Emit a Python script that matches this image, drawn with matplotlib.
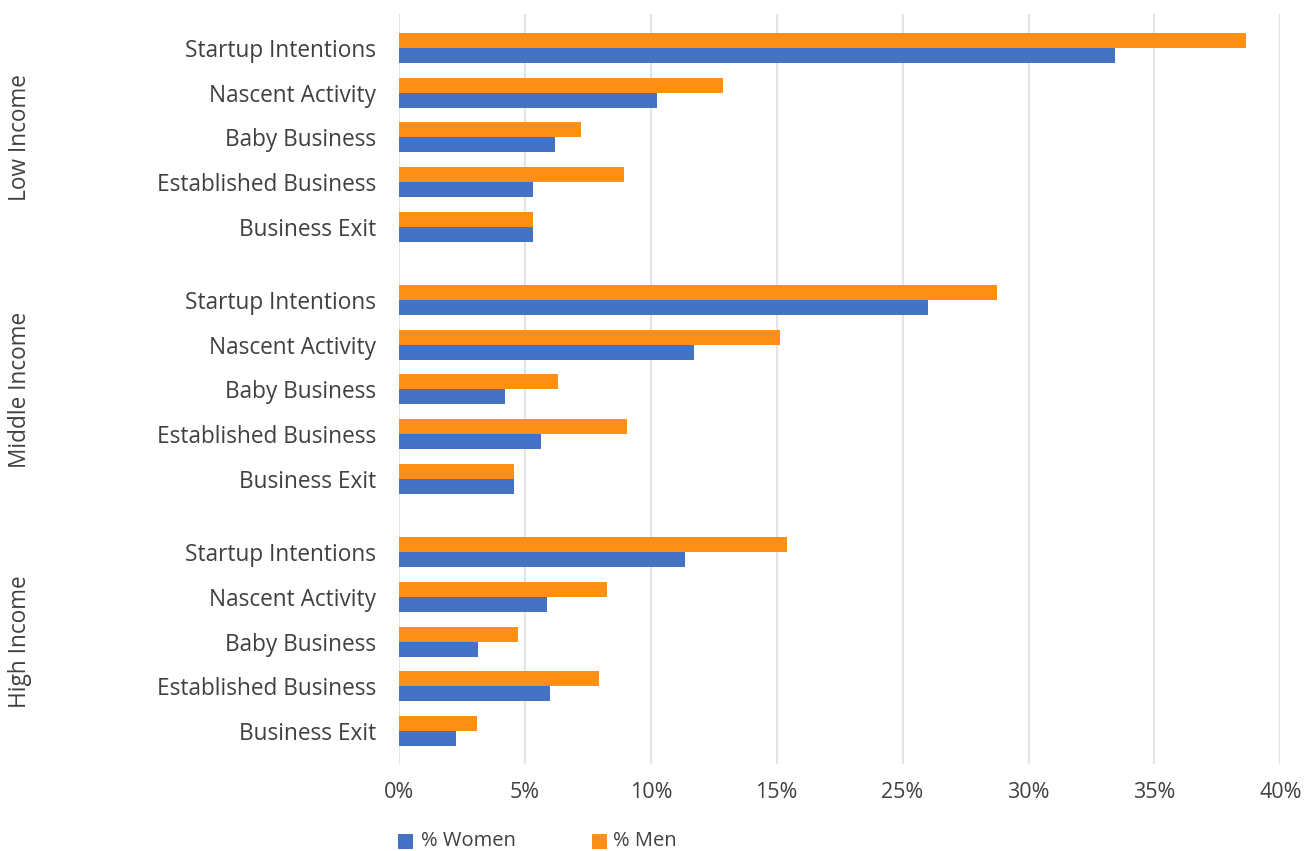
import matplotlib
matplotlib.use("Agg")
import matplotlib.pyplot as plt
from matplotlib.patches import Rectangle

plt.rcParams['font.family'] = ['Open Sans', 'DejaVu Sans']

# Data (% of adults, by income group)
groups = ["Low Income", "Middle Income", "High Income"]
categories = ["Startup Intentions", "Nascent Activity", "Baby Business",
              "Established Business", "Business Exit"]
women = [
    [32.5, 11.7, 7.1, 6.1, 6.1],
    [24.0, 13.4, 4.8, 6.45, 5.2],
    [13.0, 6.7, 3.6, 6.85, 2.6],
]
men = [
    [38.45, 14.7, 8.25, 10.2, 6.1],
    [27.15, 17.3, 7.2, 10.35, 5.2],
    [17.6, 9.45, 5.4, 9.1, 3.55],
]
series_labels = ["% Women", "% Men"]
x_max = 40.0
x_tick_labels = ["0%", "5%", "10%", "15%", "25%", "30%", "35%", "40%"]

BLUE = "#4472C4"
ORANGE = "#FF8F17"
TEXT = "#404040"

fig = plt.figure(figsize=(13.12, 8.51), dpi=100)
W, H = 1312, 851
ax = fig.add_axes([399 / W, 1 - 764 / H, (1280.3 - 399) / W, (764 - 14) / H])

group_step = 5.64
bar_h = 0.335
ypos, ylabels = [], []
for g, grp in enumerate(groups):
    for i, cat in enumerate(categories):
        y = g * group_step + i
        ypos.append(y)
        ylabels.append(cat)
        ax.barh(y - bar_h / 2, men[g][i], height=bar_h, color=ORANGE, zorder=3)
        ax.barh(y + bar_h / 2, women[g][i], height=bar_h, color=BLUE, zorder=3)
    center = g * group_step + (len(categories) - 1) / 2
    fig.text(20 / W, 1 - (48 + center * 44.7) / H, grp, rotation=90,
             ha="center", va="center", fontsize=16.3, color=TEXT)

ax.set_xlim(0, x_max)
ax.set_ylim(16.02, -0.76)

xt = [k * x_max / 7 for k in range(8)]
ax.set_xticks(xt)
ax.set_xticklabels(x_tick_labels, fontsize=15.5, color=TEXT)
ax.set_yticks(ypos)
ax.set_yticklabels(ylabels, fontsize=16.3, color=TEXT)
ax.tick_params(axis="both", length=0)
ax.tick_params(axis="y", pad=16.5)
ax.tick_params(axis="x", pad=13)

for x in xt:
    ax.axvline(x, color="#e4e4e4", lw=1.6, zorder=1)
for s in ax.spines.values():
    s.set_visible(False)

# Legend: colour swatch plus label for each series
for (sx, tx), color, label in zip([(398, 421), (592, 613)], [BLUE, ORANGE], series_labels):
    fig.patches.append(Rectangle((sx / W, 1 - 849 / H), 15 / W, 15 / H,
                                 transform=fig.transFigure, facecolor=color,
                                 edgecolor="none"))
    fig.text(tx / W, 1 - 841 / H, label, ha="left", va="center",
             fontsize=14.5, color=TEXT)

fig.savefig("out.png", dpi=100)
